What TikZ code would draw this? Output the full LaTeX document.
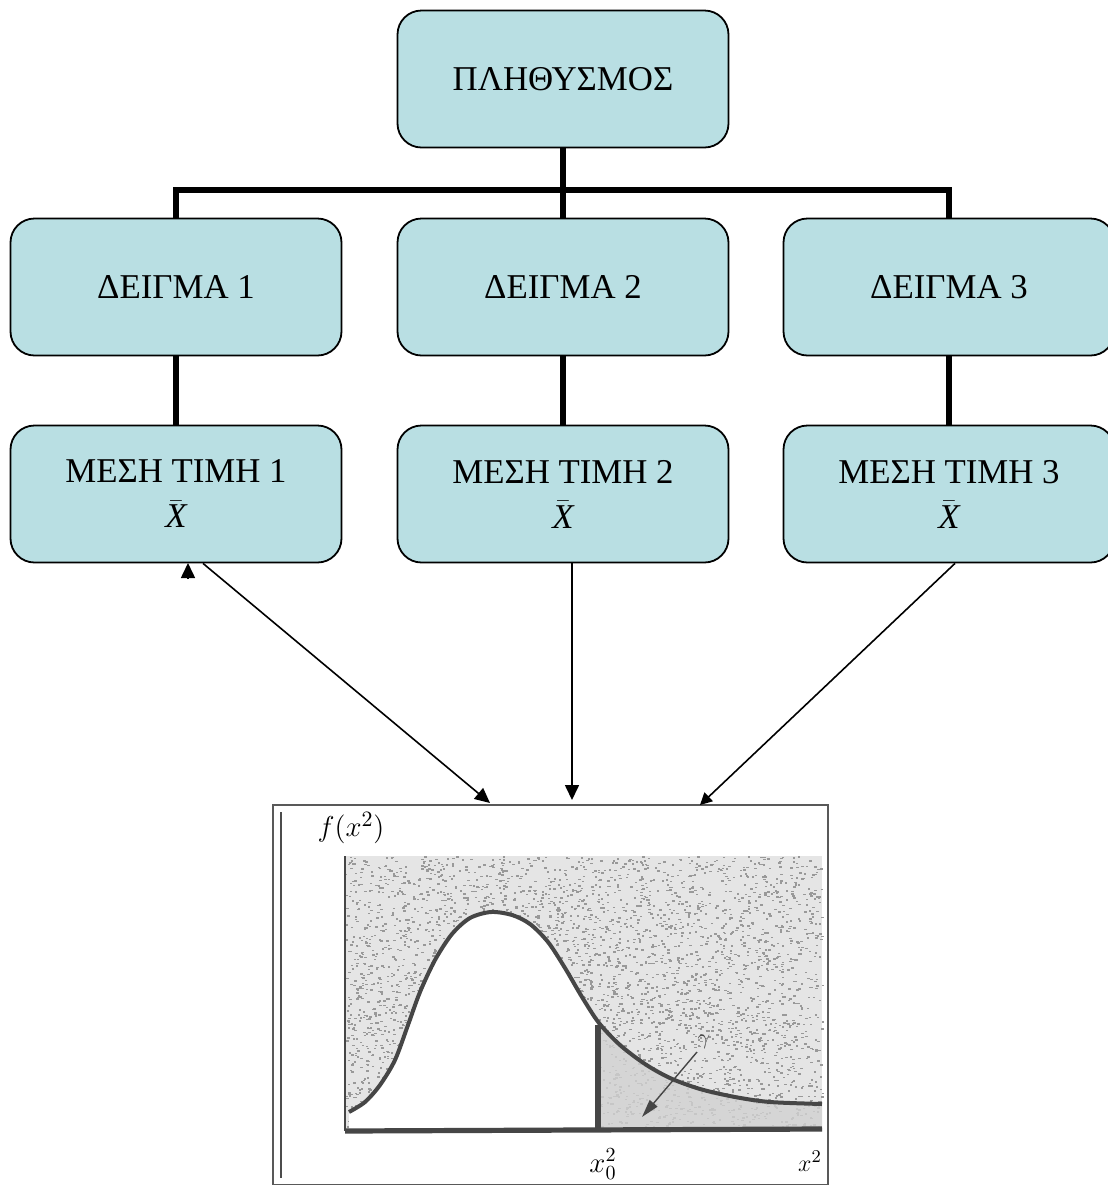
\documentclass[tikz,border=0pt]{standalone}
\usepackage{fontspec}
\setmainfont{Liberation Serif}
\usetikzlibrary{arrows.meta}

\definecolor{boxfill}{RGB}{185,223,227}
\definecolor{inkgray}{RGB}{70,70,70}

\tikzset{
  boxnode/.style={draw, line width=0.9pt, rounded corners=12pt, fill=boxfill,
    minimum width=165.5pt, minimum height=68.5pt, align=center,
    font=\fontsize{17.4}{22.5}\selectfont},
  tree/.style={line width=3pt},
  link/.style={line width=0.8pt, -{Triangle[length=7.5pt,width=7pt]}},
}

\begin{document}
\begin{tikzpicture}[x=0.5pt,y=-0.5pt]
  \useasboundingbox (0,0) rectangle (1108,1185);

  % population and samples
  \node[boxnode] (pop) at (563,79) {ΠΛΗΘΥΣΜΟΣ};
  \node[boxnode] (s1) at (176,287) {ΔΕΙΓΜΑ 1};
  \node[boxnode] (s2) at (563,287) {ΔΕΙΓΜΑ 2};
  \node[boxnode] (s3) at (949,287) {ΔΕΙΓΜΑ 3};
  \node[boxnode] (m1) at (176,494) {ΜΕΣΗ ΤΙΜΗ 1\\ $\bar{\mbox{\itshape X}}$};
  \node[boxnode] (m2) at (563,494) {ΜΕΣΗ ΤΙΜΗ 2\\ $\bar{\mbox{\itshape X}}$};
  \node[boxnode] (m3) at (949,494) {ΜΕΣΗ ΤΙΜΗ 3\\ $\bar{\mbox{\itshape X}}$};

  \draw[tree] (pop.south) -- (s2.north);
  \draw[tree] (s1.north) -- ++(0,-28) -| (s3.north);
  \foreach \i in {1,2,3}
    \draw[tree] (s\i.south) -- (m\i.north);

  % chart frame
  \coordinate (chtl) at (273,805);
  \coordinate (chbr) at (828,1185);
  \draw[gray!70!black, line width=0.7pt] (chtl) rectangle (chbr);
  \draw[gray!60!black, line width=0.6pt] (281,812) -- (281,1178);

  % stippled background
  \fill[gray!20] (345,856) rectangle (822,1130);
  \pgfmathsetseed{11}
  \foreach \i in {1,...,4200} {
    \pgfmathsetmacro{\px}{345+477*rnd}
    \pgfmathsetmacro{\py}{856+274*rnd}
    \fill[gray!80] (\px,\py) rectangle ++(2.4,1.5);
  }
  \def\curve{plot[smooth] coordinates {(349,1112) (365,1102) (380,1085)
    (395,1060) (408,1025) (420,992) (435,960) (452,934) (470,918) (491,912)
    (512,915) (530,924) (548,942) (565,968) (582,997) (599,1023) (620,1045)
    (645,1064) (670,1078) (700,1089) (735,1097) (770,1102) (822,1104)}}
  \begin{scope}
    \clip (346,850) rectangle (599,1131);
    \fill[white] \curve -- (822,1131) -- (349,1131) -- cycle;
  \end{scope}
  \begin{scope}
    \clip (599,850) rectangle (822,1131);
    \fill[gray!35, opacity=0.8] \curve -- (822,1131) -- (349,1131) -- cycle;
  \end{scope}
  \draw[inkgray, line width=2pt] \curve;
  \draw[inkgray, line width=0.8pt] (345,856) -- (345,1131);
  \draw[inkgray, line width=2.6pt] (345,1131) -- (822,1129);
  \draw[inkgray, line width=3pt] (598,1025) -- (598,1131);
  \node (fx) at (351,828) {\fontsize{15}{17}\selectfont $f(x^2)$};
  \node (x0) at (603,1164) {\fontsize{14}{16}\selectfont $x_0^2$};
  \node (xa) at (810,1161) {\fontsize{13}{15}\selectfont $x^2$};
  \node[inkgray] (gam) at (704,1042) {\fontsize{11}{13}\selectfont $\gamma$};
  \draw[inkgray, line width=0.7pt, -{Triangle[length=9pt,width=5pt]}] (697,1052) -- (642,1117);

  % arrows between means and chart
  \coordinate (c1) at (490,803);
  \coordinate (c2) at (572,800);
  \coordinate (c3) at (700,805);
  \draw[link] (m1.south -| 203,0) -- (c1);
  \draw[link] (m2.south -| 572,0) -- (c2);
  \draw[link, -{Triangle[length=6pt,width=6pt]}] (m3.south -| 955,0) -- (c3);
  \draw[link] (188,579) -- (188,563);
\end{tikzpicture}
\end{document}
